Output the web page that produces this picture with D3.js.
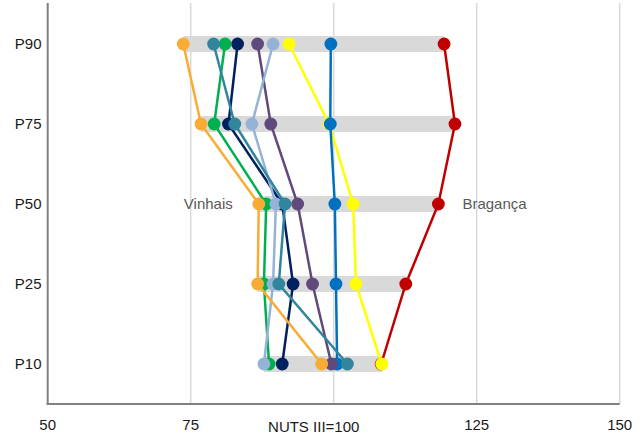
<!DOCTYPE html>
<html>
<head>
<meta charset="utf-8">
<script src="https://cdn.jsdelivr.net/npm/d3@7"></script>
<style>
  html, body { margin: 0; padding: 0; background: #fff; }
  svg { display: block; font-family: "Liberation Sans", Arial, sans-serif; }
</style>
</head>
<body>
<svg id="chart" width="644" height="436"></svg>
<script>
// Categories (top to bottom)
const categories = ["P90", "P75", "P50", "P25", "P10"];
// X axis tick values
const xTicks = [50, 75, 100, 125, 150];
const xTitle = "NUTS III=100";

// Series names (drawing order, bottom to top)
const seriesNames = ["Bragança", "Mirandela", "Macedo de Cavaleiros", "Mogadouro", "Vimioso",
                     "Vila Flor", "Alfândega da Fé", "Miranda do Douro", "Vinhais"];
const seriesColors = ["#C00000", "#FFFF00", "#0070C0", "#604A7B", "#002060",
                      "#00B050", "#95B3D7", "#31859C", "#F9AC33"];
// Values per series, in category order P90, P75, P50, P25, P10
const braganca    = [119.3, 121.2, 118.3, 112.6, 108.3];
const mirandela   = [92.2, 99.2, 103.4, 103.9, 108.4];
const macedo      = [99.5, 99.4, 100.2, 100.4, 100.6];
const mogadouro   = [86.7, 89.0, 93.7, 96.3, 99.6];
const vimioso     = [83.2, 81.6, 91.0, 92.9, 91.0];
const vilaFlor    = [81.0, 79.1, 88.2, 87.8, 88.7];
const alfandega   = [89.4, 85.7, 89.9, 89.4, 87.8];
const miranda     = [79.0, 82.7, 91.5, 90.4, 102.4];
const vinhais     = [73.7, 76.8, 86.9, 86.7, 97.9];
const seriesValues = [braganca, mirandela, macedo, mogadouro, vimioso, vilaFlor, alfandega, miranda, vinhais];

const svg = d3.select("#chart");
const margin = { left: 47.7, right: 24.3, top: 4, bottom: 32 };
const W = 644, H = 436;

const x = d3.scaleLinear().domain([50, 150]).range([margin.left, W - margin.right]);
const y = d3.scaleBand().domain(categories).range([margin.top, H - margin.bottom]);
const yc = c => y(c) + y.bandwidth() / 2;

// gridlines
svg.append("g").selectAll("line")
  .data(xTicks.slice(1))
  .join("line")
  .attr("x1", d => x(d)).attr("x2", d => x(d))
  .attr("y1", margin.top - 1).attr("y2", H - margin.bottom)
  .attr("stroke", "#D9D9D9").attr("stroke-width", 1.5);

// range bars (min to max for each category)
const bars = categories.map((c, i) => {
  const vals = seriesValues.map(s => s[i]);
  return { c, min: d3.min(vals), max: d3.max(vals) };
});
svg.append("g").selectAll("rect")
  .data(bars)
  .join("rect")
  .attr("x", d => x(d.min))
  .attr("width", d => x(d.max) - x(d.min))
  .attr("y", d => yc(d.c) - 8)
  .attr("height", 16)
  .attr("fill", "#D9D9D9");

// axes
const axisG = svg.append("g");
axisG.append("line")
  .attr("x1", x(50)).attr("x2", x(50))
  .attr("y1", margin.top - 1).attr("y2", H - margin.bottom + 1)
  .attr("stroke", "#808080").attr("stroke-width", 2);
axisG.append("line")
  .attr("x1", x(50) - 1).attr("x2", x(150))
  .attr("y1", H - margin.bottom).attr("y2", H - margin.bottom)
  .attr("stroke", "#808080").attr("stroke-width", 2);

// x tick labels (100 is replaced by axis title)
svg.append("g").selectAll("text")
  .data(xTicks.filter(d => d !== 100))
  .join("text")
  .attr("x", d => x(d)).attr("y", 430)
  .attr("text-anchor", "middle")
  .attr("font-size", 15).attr("fill", "#1a1a1a")
  .text(d => d);
svg.append("text")
  .attr("x", x(100) - 20).attr("y", 432)
  .attr("text-anchor", "middle")
  .attr("font-size", 15).attr("fill", "#1a1a1a")
  .text(xTitle);

// y labels
svg.append("g").selectAll("text")
  .data(categories)
  .join("text")
  .attr("x", 41.5).attr("y", d => yc(d) + 5.3)
  .attr("text-anchor", "end")
  .attr("font-size", 15).attr("fill", "#1a1a1a")
  .text(d => d);

// series lines + markers
const line = d3.line().x(d => x(d.v)).y(d => yc(d.c));
seriesValues.forEach((vals, si) => {
  const pts = vals.map((v, i) => ({ v, c: categories[i] }));
  const g = svg.append("g");
  g.append("path")
    .datum(pts)
    .attr("d", line)
    .attr("fill", "none")
    .attr("stroke", seriesColors[si])
    .attr("stroke-width", 2.5);
  g.selectAll("circle")
    .data(pts)
    .join("circle")
    .attr("cx", d => x(d.v)).attr("cy", d => yc(d.c))
    .attr("r", 6.4)
    .attr("fill", seriesColors[si]);
});

// data labels for extremes at P50
const iP50 = categories.indexOf("P50");
svg.append("text")
  .attr("x", x(vinhais[iP50]) - 26).attr("y", yc("P50") + 5.3)
  .attr("text-anchor", "end")
  .attr("font-size", 15).attr("fill", "#595959")
  .text("Vinhais");
svg.append("text")
  .attr("x", x(braganca[iP50]) + 24).attr("y", yc("P50") + 5.3)
  .attr("text-anchor", "start")
  .attr("font-size", 15).attr("fill", "#595959")
  .text("Bragança");
</script>
</body>
</html>
